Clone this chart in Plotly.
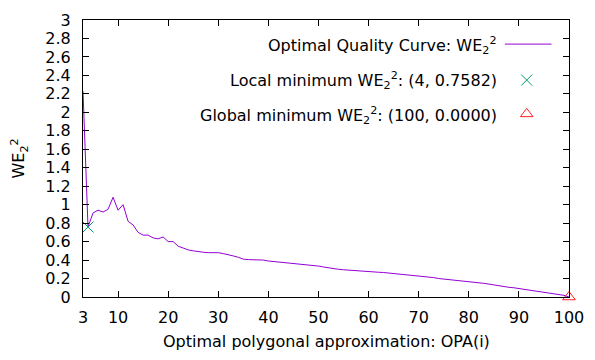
import plotly.graph_objects as go

# ---- data ----
opa_i = list(range(3, 101))
we2 = [2.23, 0.7582, 0.91, 0.94, 0.92, 0.95, 1.08, 0.94, 1.00, 0.82,
       0.78, 0.70, 0.67, 0.67, 0.64, 0.63, 0.65, 0.60, 0.60, 0.55,
       0.53, 0.51, 0.50, 0.49, 0.485, 0.48, 0.48, 0.48, 0.47, 0.46,
       0.445, 0.43, 0.41, 0.405, 0.405, 0.405, 0.40, 0.39, 0.385, 0.38,
       0.375, 0.37, 0.365, 0.36, 0.355, 0.35, 0.345, 0.335, 0.325, 0.315,
       0.305, 0.30, 0.295, 0.29, 0.285, 0.28, 0.28, 0.277, 0.272, 0.268,
       0.265, 0.26, 0.255, 0.25, 0.245, 0.24, 0.235, 0.23, 0.225, 0.218,
       0.21, 0.20, 0.195, 0.19, 0.185, 0.18, 0.175, 0.17, 0.162, 0.155,
       0.148, 0.14, 0.13, 0.12, 0.112, 0.105, 0.10, 0.092, 0.085, 0.078,
       0.07, 0.062, 0.055, 0.048, 0.04, 0.03, 0.018, 0.0]
local_min = (4, 0.7582)
global_min = (100, 0.0)

x_ticks = [3, 10, 20, 30, 40, 50, 60, 70, 80, 90, 100]
y_ticks = [round(0.2 * k, 1) for k in range(16)]
y_ticktext = [("%g" % v) for v in y_ticks]

legend_texts = ["Optimal Quality Curve: WE<sub>2</sub><sup>2</sup>",
                "Local minimum WE<sub>2</sub><sup>2</sup>: (4, 0.7582)",
                "Global minimum WE<sub>2</sub><sup>2</sup>: (100, 0.0000)"]

LINE_C = "#9400D3"
X_C = "#009E73"
TRI_C = "#FF2020"
FONT = "DejaVu Sans"
FS = 16

fig = go.Figure()
fig.add_trace(go.Scatter(x=opa_i, y=we2, mode="lines",
                         line=dict(color=LINE_C, width=1), showlegend=False,
                         cliponaxis=False))
fig.add_trace(go.Scatter(x=[local_min[0]], y=[local_min[1]], mode="markers",
                         marker=dict(symbol="x-thin-open", size=11, color=X_C,
                                     line=dict(color=X_C, width=1)),
                         showlegend=False, cliponaxis=False))
fig.add_trace(go.Scatter(x=[global_min[0]], y=[global_min[1]], mode="markers",
                         marker=dict(symbol="triangle-up-open", size=11,
                                     color=TRI_C, line=dict(color=TRI_C, width=1)),
                         showlegend=False, cliponaxis=False))

# legend samples on an overlay axis in [0,1]
leg_y = [0.909, 0.783, 0.657]
fig.add_trace(go.Scatter(x=[0.868, 0.964], y=[0.913, 0.913], mode="lines",
                         line=dict(color=LINE_C, width=1), xaxis="x2", yaxis="y2",
                         showlegend=False, cliponaxis=False))
fig.add_trace(go.Scatter(x=[0.913], y=[leg_y[1]], mode="markers",
                         marker=dict(symbol="x-thin-open", size=11, color=X_C,
                                     line=dict(color=X_C, width=1)),
                         xaxis="x2", yaxis="y2", showlegend=False, cliponaxis=False))
fig.add_trace(go.Scatter(x=[0.913], y=[0.661], mode="markers",
                         marker=dict(symbol="triangle-up-open", size=11,
                                     color=TRI_C, line=dict(color=TRI_C, width=1)),
                         xaxis="x2", yaxis="y2", showlegend=False, cliponaxis=False))

annotations = []
for t, yy in zip(legend_texts, leg_y):
    annotations.append(dict(text=t, xref="paper", yref="paper", x=0.855, y=yy,
                            xanchor="right", yanchor="middle", showarrow=False,
                            font=dict(family=FONT, size=FS, color="black")))
annotations.append(dict(text="WE<sub>2</sub><sup>2</sup>", xref="paper", yref="paper",
                        x=-0.1316, y=0.5, textangle=-90, xanchor="center",
                        yanchor="middle", showarrow=False,
                        font=dict(family=FONT, size=FS, color="black")))
annotations.append(dict(text="Optimal polygonal approximation: OPA(i)", xref="paper",
                        yref="paper", x=0.5, y=-0.162, xanchor="center",
                        yanchor="middle", showarrow=False,
                        font=dict(family=FONT, size=FS, color="black")))

axis_common = dict(showline=True, linecolor="black", linewidth=1, mirror="ticks",
                   ticks="inside", ticklen=6, tickcolor="black", tickwidth=1,
                   showgrid=False, zeroline=False,
                   tickfont=dict(family=FONT, size=FS, color="black"))

fig.update_layout(
    width=595, height=360,
    margin=dict(l=83, r=18, t=11, b=63),
    paper_bgcolor="white", plot_bgcolor="white",
    showlegend=False,
    xaxis=dict(range=[3, 100], tickvals=x_ticks, ticktext=[str(v) for v in x_ticks],
               ticklabelstandoff=6, **axis_common),
    yaxis=dict(range=[0, 3], tickvals=y_ticks, ticktext=y_ticktext,
               ticklabelstandoff=8, **axis_common),
    xaxis2=dict(range=[0, 1], overlaying="x", visible=False, fixedrange=True),
    yaxis2=dict(range=[0, 1], overlaying="y", visible=False, fixedrange=True),
    annotations=annotations,
)

fig.write_html("out.html")
